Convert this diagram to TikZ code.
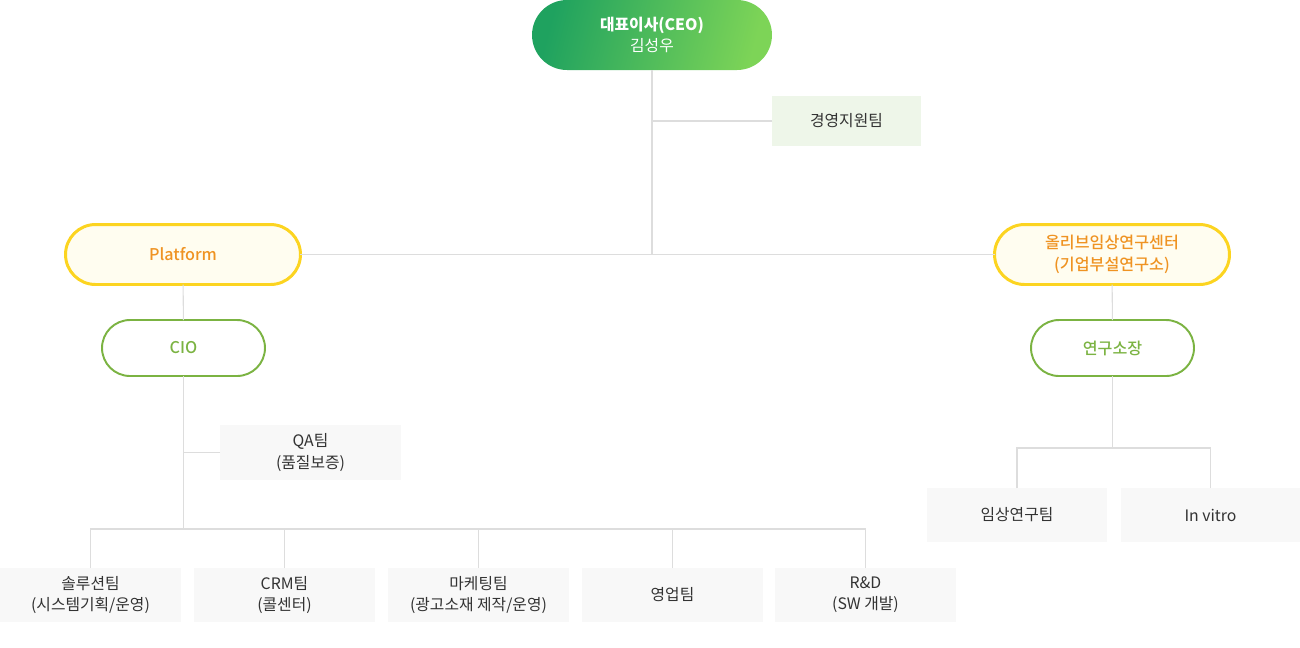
\documentclass[tikz,border=0pt]{standalone}
\usepackage{fontspec}
\setmainfont{Noto Sans CJK KR}
\newfontfamily\medfont{Noto Sans CJK KR Medium}
\definecolor{ceoDark}{HTML}{1FA25F}
\definecolor{ceoLight}{HTML}{7DD457}
\definecolor{mgmtFill}{HTML}{EEF6E9}
\definecolor{hubFill}{HTML}{FFFDF0}
\definecolor{hubLine}{HTML}{FCD420}
\definecolor{hubText}{HTML}{EF9322}
\definecolor{leadGreen}{HTML}{7BB342}
\definecolor{teamFill}{HTML}{F8F8F8}
\definecolor{lineGray}{HTML}{DDDDDD}
\definecolor{textGray}{HTML}{333333}
\begin{document}
\begin{tikzpicture}[x=0.02cm,y=-0.02cm,
  every node/.style={font=\fontsize{9}{12}\selectfont,align=center,inner sep=0,outer sep=0},
  link/.style={draw=lineGray,line width=0.6pt},
  hub/.style={draw=hubLine,fill=hubFill,text=hubText,line width=1.7pt,
    minimum width=4.7cm,minimum height=1.2cm,rounded corners=0.6cm,
    font=\fontsize{9.2}{12.5}\selectfont\medfont},
  lead/.style={draw=leadGreen,fill=white,text=leadGreen,line width=1.1pt,
    minimum width=3.26cm,minimum height=1.12cm,rounded corners=0.56cm,
    font=\fontsize{9.2}{12}\selectfont\medfont},
  team/.style={fill=teamFill,text=textGray,minimum width=3.62cm,minimum height=1.08cm}]
\useasboundingbox (0,0) rectangle (1300,647);

% top
\node (ceo) at (652,35) [left color=ceoDark,right color=ceoLight,shading angle=75,text=white,
  minimum width=4.8cm,minimum height=1.4cm,rounded corners=0.7cm]
  {\bfseries 대표이사(CEO)\\김성우};
\node (mgmt) at (846.5,121) [fill=mgmtFill,text=textGray,minimum width=2.98cm,minimum height=1cm] {경영지원팀};
\node (platform) at (183,254.5) [hub] {Platform};
\node (olive) at (1112,254.5) [hub] {올리브임상연구센터\\(기업부설연구소)};
\draw[link] (ceo.south) -- (ceo.south |- platform.east);
\draw[link] (mgmt.west) -- (mgmt.west -| ceo.south);
\draw[link] (platform.east) -- (olive.west);

% platform side
\node (cio) at (183.5,348) [lead] {CIO};
\node (qa) at (310.5,452.5) [team,minimum height=1.1cm] {QA팀\\(품질보증)};
\coordinate (bus) at (183.5,529);
\draw[link] (platform) -- (cio);
\draw[link] (cio.south) -- (bus);
\draw[link] (qa.west) -- (qa.west -| cio.south);
\node (solution) at (90.5,595) [team] {솔루션팀\\(시스템기획/운영)};
\node (crm) at (284.5,595) [team] {CRM팀\\(콜센터)};
\node (marketing) at (478.5,595) [team] {마케팅팀\\(광고소재 제작/운영)};
\node (sales) at (672.5,595) [team] {영업팀};
\node (rnd) at (865.5,595) [team] {R\&D\\(SW 개발)};
\foreach \t in {solution,crm,marketing,sales,rnd}
  \draw[link] (\t.north) |- (bus);

% research side
\node (director) at (1112.5,348) [lead] {연구소장};
\coordinate (labbus) at (1112.5,448);
\draw[link] (olive) -- (director);
\draw[link] (director.south) -- (labbus);
\node (clinical) at (1017,515) [team,minimum width=3.6cm] {임상연구팀};
\node (vitro) at (1210.5,515) [team,minimum width=3.58cm] {In vitro};
\foreach \t in {clinical,vitro}
  \draw[link] (\t.north) |- (labbus);
\end{tikzpicture}
\end{document}
